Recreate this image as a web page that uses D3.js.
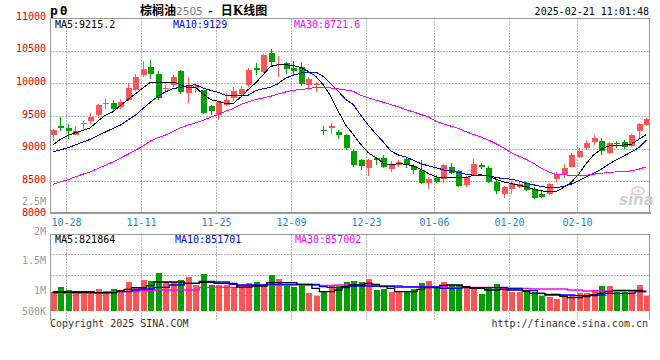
<!DOCTYPE html>
<html><head><meta charset="utf-8">
<script src="https://cdn.jsdelivr.net/npm/d3@7"></script>
<style>body{margin:0;background:#fff}svg{display:block}</style>
</head><body>
<svg id="c" width="660" height="360"></svg>
<script>
// ---------- data ----------
const dates = ["10-24","10-25","10-28","10-29","10-30","10-31","11-01","11-04","11-05","11-06","11-07","11-08","11-11","11-12","11-13","11-14","11-15","11-18","11-19","11-20","11-21","11-22","11-25","11-26","11-27","11-28","11-29","12-02","12-03","12-04","12-05","12-06","12-09","12-10","12-11","12-12","12-13","12-16","12-17","12-18","12-19","12-20","12-23","12-24","12-25","12-26","12-27","12-30","12-31","01-02","01-03","01-06","01-07","01-08","01-09","01-10","01-13","01-14","01-15","01-16","01-17","01-20","01-21","01-22","01-23","01-24","01-27","02-05","02-06","02-07","02-10","02-11","02-12","02-13","02-14","02-17","02-18","02-19","02-20","02-21"];
const openP = [9203,9350,9310,9213,9376,9431,9513,9695,9700,9635,9751,9898,10127,10249,10137,9914,9975,10188,9853,9929,9893,9650,9513,9675,9772,9838,9980,10233,10168,10462,10274,10310,10233,10249,9980,9975,9289,9310,9259,9213,8964,8832,8711,8853,8858,8695,8756,8838,8741,8680,8472,8558,8538,8721,8660,8437,8594,8746,8711,8497,8305,8381,8406,8472,8386,8300,8310,8538,8594,8726,8878,9005,9102,9117,8929,9091,9102,9041,9264,9355];
const highP = [9295,9492,9381,9350,9421,9548,9685,9761,9741,9761,10000,10142,10345,10355,10193,9975,10132,10198,10096,9990,9904,9675,9726,9853,9944,9964,10233,10315,10447,10518,10411,10325,10335,10320,10096,10015,9340,9391,9284,9218,8990,8848,8848,8873,8909,8812,8832,8863,8772,8827,8563,8599,8772,8782,8675,8584,8843,8787,8736,8533,8426,8508,8492,8497,8411,8355,8477,8650,8772,8934,9005,9127,9213,9168,9096,9117,9137,9218,9391,9462];
const lowP = [9117,9269,9142,9208,9305,9371,9472,9614,9569,9609,9726,9878,10102,10066,9746,9853,9949,9838,9695,9853,9533,9518,9437,9660,9736,9827,9944,10132,10162,10259,10096,10147,10132,9954,9929,9863,9203,9218,9142,8975,8721,8670,8574,8751,8701,8640,8726,8711,8609,8457,8381,8472,8472,8609,8406,8406,8574,8690,8472,8305,8244,8305,8391,8345,8223,8244,8294,8487,8558,8716,8863,8980,9056,8904,8914,9005,8995,9030,9168,9340];
const closeP = [9289,9310,9264,9269,9386,9487,9670,9700,9614,9716,9929,10096,10218,10142,9777,9929,10091,9868,9964,9964,9543,9569,9716,9751,9878,9914,10203,10208,10437,10330,10294,10223,10183,9990,10066,9990,9269,9340,9208,9005,8746,8741,8832,8827,8716,8772,8797,8756,8670,8467,8543,8487,8746,8624,8421,8569,8772,8721,8487,8345,8411,8467,8457,8365,8239,8259,8462,8614,8711,8909,8970,9086,9162,8964,9086,9066,9025,9208,9381,9447];
const ma5 = [9056,9142,9203,9244,9279,9320,9421,9513,9563,9660,9751,9838,9929,10015,10020,10020,10020,9980,9929,9939,9838,9751,9726,9690,9690,9787,9904,10005,10132,10259,10284,10284,10274,10244,10183,10107,9980,9802,9574,9360,9218,9066,8939,8863,8780,8751,8772,8761,8736,8685,8619,8568,8558,8558,8558,8558,8594,8599,8584,8533,8492,8467,8442,8416,8381,8355,8340,8345,8406,8482,8609,8772,8904,8990,9041,9056,9056,9066,9142,9215];
const ma10 = [8949,8980,9015,9056,9102,9142,9203,9254,9310,9360,9437,9513,9614,9711,9802,9868,9919,9939,9964,9980,9929,9893,9863,9817,9817,9817,9817,9888,9919,9939,9995,10081,10122,10157,10173,10173,10107,9990,9878,9751,9675,9513,9360,9228,9102,8964,8904,8873,8822,8772,8736,8711,8675,8660,8635,8609,8594,8594,8584,8558,8543,8533,8508,8472,8447,8421,8406,8406,8421,8457,8508,8569,8624,8685,8761,8827,8888,8949,9015,9129];
const ma30 = [8452,8492,8523,8569,8609,8645,8695,8746,8797,8853,8914,8975,9041,9117,9168,9208,9259,9320,9360,9396,9431,9482,9523,9574,9614,9675,9716,9751,9777,9802,9838,9868,9893,9904,9919,9939,9939,9929,9914,9898,9878,9817,9777,9741,9711,9675,9640,9599,9563,9523,9487,9421,9381,9345,9310,9259,9218,9178,9132,9076,9015,8939,8888,8838,8777,8701,8645,8609,8599,8594,8594,8594,8609,8624,8635,8645,8645,8660,8685,8722];
const volume = [972,1056,1000,972,944,944,1017,983,1017,1000,1136,1028,1175,1153,1288,1130,1141,1169,1220,1085,1271,1085,1085,1085,1056,1045,1119,1136,1096,1254,1192,1085,1056,1085,949,898,972,1080,1068,1136,1153,1136,1186,1000,1017,966,966,972,1017,1119,1153,1068,1136,1085,1085,1051,1051,932,1034,1102,1017,966,966,1000,966,898,881,847,915,915,949,949,1000,1068,1068,966,966,1000,1085,898];
const vma5 = [960,960,960,960,960,960,955,955,955,983,1011,1040,1040,1073,1136,1136,1136,1136,1113,1113,1130,1130,1113,1113,1113,1050,1050,1068,1068,1124,1124,1124,1124,1096,1096,1028,972,972,1000,1056,1085,1085,1113,1096,1056,1028,972,972,972,1011,1040,1040,1079,1085,1085,1056,1028,1028,1000,1000,1011,1000,1000,983,944,944,927,927,893,870,870,887,915,944,972,994,994,994,994,972];
const vma10 = [972,972,972,972,972,972,955,955,955,972,972,1000,1017,1017,1045,1045,1085,1085,1113,1113,1147,1147,1136,1136,1096,1085,1085,1085,1085,1096,1096,1096,1096,1096,1096,1096,1056,1045,1040,1040,1068,1068,1068,1062,1062,1062,1051,1051,1051,1051,1051,1051,1028,1028,1028,1040,1040,1040,1040,1040,1045,1028,1028,989,989,944,915,915,915,915,904,904,904,915,944,944,944,944,972,972];
const vma30 = [944,944,944,944,944,944,944,944,972,972,972,972,989,989,1000,1000,1000,1000,1000,1000,1045,1045,1045,1045,1045,1068,1068,1068,1085,1085,1085,1085,1085,1085,1079,1079,1079,1079,1085,1085,1085,1085,1085,1073,1073,1073,1073,1056,1056,1056,1056,1056,1056,1045,1045,1045,1045,1045,1045,1045,1028,1028,1028,1028,1017,1017,1017,1017,1017,1000,1000,983,983,983,983,983,983,983,983,983];
const xTicks = ["10-28","11-11","11-25","12-09","12-23","01-06","01-20","02-10"];
const priceTicks = [8000,8500,9000,9500,10000,10500,11000];
const volTicks = [500000,1000000,1500000,2000000,2500000];
const volTickLabels = ["500K","1M","1.5M","2M","2.5M"];
const maLabels = ["MA5:9215.2","MA10:9129","MA30:8721.6"];
const volMaLabels = ["MA5:821864","MA10:851701","MA30:857002"];

// ---------- drawing ----------
const svg = d3.select('#c');
const L = 50, R = 650, T = 18, B = 214, VT = 234, VB = 320;
const MONO = "'DejaVu Sans Mono', monospace";
const UP = "#ff5555", DOWN = "#00a000", GRID = "#b4b4b4", FRAME = "#999";

const x = d3.scaleBand().domain(dates).range([49, 650]);
const cx = d => x(d) + x.bandwidth() / 2;
const y = d3.scaleLinear().domain([8000, 11000]).range([214, 18]);
const yV = d3.scaleLinear().domain([650000, 2000000]).range([310.65, 231]);

const data = dates.map((d, i) => ({d, o: openP[i], h: highP[i], l: lowP[i], c: closeP[i], v: volume[i] * 1000}));

// gridlines
const grid = svg.append('g').attr('stroke', GRID).attr('stroke-dasharray', '2,1').attr('shape-rendering', 'crispEdges');
priceTicks.filter(v => v > 8000 && v < 11000).forEach(v => {
  const yy = Math.round(y(v)) + 0.5;
  grid.append('line').attr('x1', L).attr('x2', R).attr('y1', yy).attr('y2', yy);
});
xTicks.forEach(d => {
  const xx = Math.round(cx(d)) - 1.5;
  grid.append('line').attr('x1', xx).attr('x2', xx).attr('y1', T).attr('y2', B);
  grid.append('line').attr('x1', xx).attr('x2', xx).attr('y1', VT).attr('y2', VB);
});
[1, 2, 3].forEach(k => {
  const yy = Math.round(VT + k * 20.3) + 0.5;
  grid.append('line').attr('x1', L).attr('x2', R).attr('y1', yy).attr('y2', yy);
});

// candles
const cg = svg.append('g').attr('shape-rendering', 'crispEdges');
const cs = cg.selectAll('g').data(data).join('g');
cs.append('line')
  .attr('x1', d => Math.round(cx(d.d)) + 0.5).attr('x2', d => Math.round(cx(d.d)) + 0.5)
  .attr('y1', d => Math.round(y(d.h))).attr('y2', d => Math.round(y(d.l)))
  .attr('stroke', d => d.c >= d.o ? UP : DOWN);
cs.append('rect')
  .attr('x', d => Math.round(cx(d.d)) - 2).attr('width', 6)
  .attr('y', d => Math.round(y(Math.max(d.o, d.c))))
  .attr('height', d => Math.max(1, Math.round(y(Math.min(d.o, d.c))) - Math.round(y(Math.max(d.o, d.c)))))
  .attr('fill', d => d.c >= d.o ? UP : DOWN);

// MA lines (price)
const line = d3.line().x((v, i) => cx(dates[i])).y(v => y(v));
[[ma5, '#000'], [ma10, '#0000ff'], [ma30, '#ff00ff']].forEach(([arr, col]) => {
  svg.append('path').attr('d', line(arr)).attr('fill', 'none').attr('stroke', col)
    .attr('stroke-width', 1).attr('shape-rendering', 'crispEdges');
});

// volume bars
const vg = svg.append('g').attr('shape-rendering', 'crispEdges');
vg.selectAll('rect').data(data).join('rect')
  .attr('x', d => Math.round(cx(d.d)) - 2).attr('width', 6)
  .attr('y', d => Math.round(yV(d.v)))
  .attr('height', d => Math.round(yV(650000)) - Math.round(yV(d.v)))
  .attr('fill', d => d.c >= d.o ? UP : DOWN);

const vline = d3.line().curve(d3.curveStep).x((v, i) => cx(dates[i])).y(v => yV(v * 1000));
[[vma30, '#ff00ff'], [vma10, '#0000ff'], [vma5, '#000']].forEach(([arr, col]) => {
  svg.append('path').attr('d', vline(arr)).attr('fill', 'none').attr('stroke', col).attr('stroke-width', 1.3);
});

// frames
const fr = svg.append('g').attr('stroke', FRAME).attr('shape-rendering', 'crispEdges').attr('fill', 'none');
fr.append('line').attr('x1', L).attr('x2', R).attr('y1', T + 0.5).attr('y2', T + 0.5);
fr.append('line').attr('x1', L).attr('x2', R + 1).attr('y1', 213).attr('y2', 213).attr('stroke-width', 2);
fr.append('line').attr('x1', L + 0.5).attr('x2', L + 0.5).attr('y1', T).attr('y2', 214);
fr.append('line').attr('x1', R - 0.5).attr('x2', R - 0.5).attr('y1', T).attr('y2', 214).attr('stroke-width', 1.5);
fr.append('line').attr('x1', L).attr('x2', R).attr('y1', VT + 0.5).attr('y2', VT + 0.5).attr('stroke-width', 1.5);
fr.append('line').attr('x1', L + 0.5).attr('x2', L + 0.5).attr('y1', VT).attr('y2', VB);
fr.append('line').attr('x1', R - 0.5).attr('x2', R - 0.5).attr('y1', VT).attr('y2', VB).attr('stroke-width', 1.5);

// sina logo watermark
const logo = svg.append('g');
logo.append('ellipse').attr('cx', 638).attr('cy', 191).attr('rx', 6).attr('ry', 4).attr('fill', 'none').attr('stroke', '#f2c4c4').attr('stroke-width', 1.6);
logo.append('circle').attr('cx', 638).attr('cy', 191).attr('r', 1.6).attr('fill', '#f2c4c4');
logo.append('text').attr('x', 619).attr('y', 205).attr('font-family', "'DejaVu Sans', sans-serif")
  .attr('font-size', 15).attr('font-weight', 'bold').attr('font-style', 'italic').attr('fill', '#cfcfcf').text('sina');

// axis labels
const txt = svg.append('g').attr('font-family', MONO).attr('font-size', 10);
priceTicks.forEach(v => {
  txt.append('text').attr('x', 46).attr('y', y(v) + 1.6).attr('text-anchor', 'end').attr('fill', '#e00000').text(v);
});
volTicks.forEach((v, i) => {
  txt.append('text').attr('x', 46).attr('y', Math.min(yV(v), 311) + 3.6).attr('text-anchor', 'end').attr('fill', '#999').text(volTickLabels[i]);
});
xTicks.forEach(d => {
  txt.append('text').attr('x', Math.round(cx(d)) - 1.5).attr('y', 225.5).attr('text-anchor', 'middle').attr('fill', '#1485d8').text(d);
});
const maCols = ['#000', '#0000ff', '#ff00ff'];
const maX = [55, 173, 294];
maLabels.forEach((t, i) => txt.append('text').attr('x', maX[i]).attr('y', 27.5).attr('fill', maCols[i]).text(t));
const vmaX = [55, 175, 295];
volMaLabels.forEach((t, i) => txt.append('text').attr('x', vmaX[i]).attr('y', 242.5).attr('fill', maCols[i]).text(t));
txt.append('text').attr('x', 649).attr('y', 15).attr('text-anchor', 'end').attr('fill', '#000').text('2025-02-21 11:01:48');
txt.append('text').attr('x', 50).attr('y', 327).attr('fill', '#333').text('Copyright 2025 SINA.COM');
txt.append('text').attr('x', 648).attr('y', 327).attr('text-anchor', 'end').attr('fill', '#333').text('http://finance.sina.com.cn');

// header
svg.append('text').attr('x', 50).attr('y', 15).attr('font-family', MONO).attr('font-size', 13)
  .attr('font-weight', 'bold').attr('letter-spacing', 2).attr('fill', '#000').text('p0');
const title = svg.append('text').attr('x', 140).attr('y', 15).attr('font-size', 12).attr('fill', '#000')
  .attr('font-family', "'Noto Sans CJK SC', sans-serif");
title.append('tspan').attr('font-weight', 'bold').text('棕榈油');
title.append('tspan').attr('fill', '#777').attr('font-family', "'DejaVu Sans', sans-serif").attr('font-size', 10.5).text('2505');
title.append('tspan').attr('font-weight', 'bold').text(' \u00a0-\u00a0\u00a0 日');
title.append('tspan').attr('font-weight', 'bold').attr('font-family', "'DejaVu Serif', serif").text('K');
title.append('tspan').attr('font-weight', 'bold').text('线图');
</script>
</body></html>
